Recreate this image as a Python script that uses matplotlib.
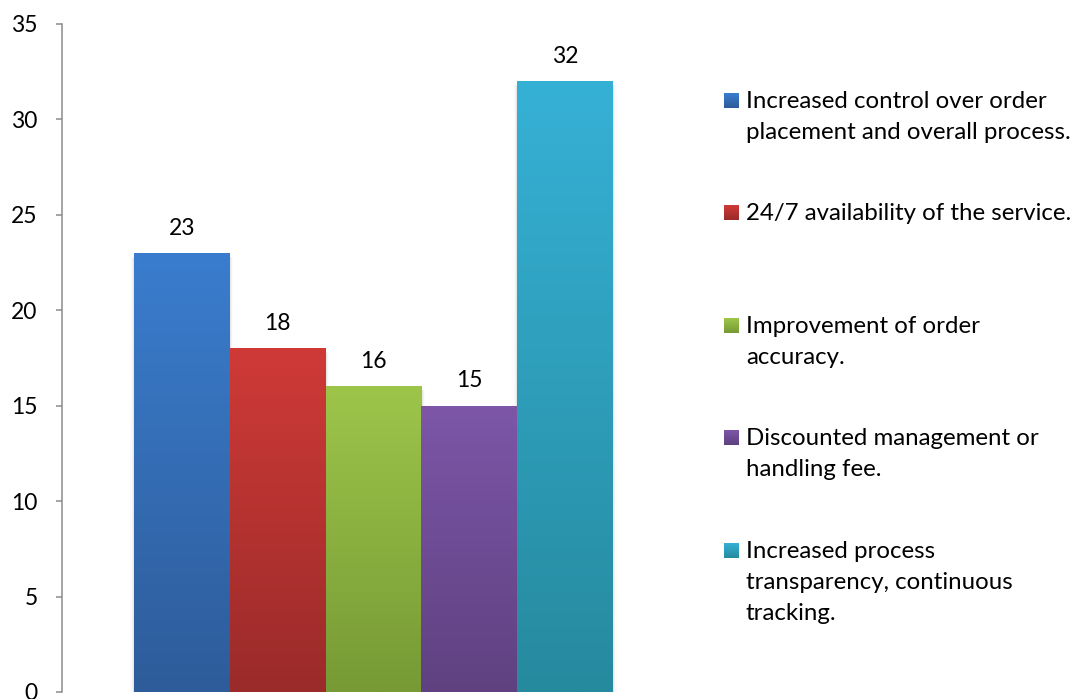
import numpy as np
import matplotlib
matplotlib.use("Agg")
import matplotlib.pyplot as plt
from matplotlib.colors import to_rgb
from matplotlib.patches import Rectangle

plt.rcParams['font.family'] = ['Lato', 'DejaVu Sans']

# Survey responses per benefit
categories = [
    "Increased control over order\nplacement and overall process.",
    "24/7 availability of the service.",
    "Improvement of order\naccuracy.",
    "Discounted management or\nhandling fee.",
    "Increased process\ntransparency, continuous\ntracking.",
]
values = [23, 18, 16, 15, 32]
y_ticks = [0, 5, 10, 15, 20, 25, 30, 35]

# top (light) and bottom (dark) colours of each bar's vertical gradient
top_colors = ["#3A7DCE", "#CF3A37", "#9DC54A", "#7D56A8", "#36B1D6"]
bottom_colors = ["#2E5C9A", "#9A2B2A", "#779A35", "#5F4180", "#268A9E"]

FS_NUM = 16.5
FS_TXT = 17.3

W, H = 1083, 699
fig = plt.figure(figsize=(W / 100, H / 100), dpi=100)
ax = fig.add_axes([62 / W, 1 - 692 / H, (685 - 62) / W, (692 - 23.5) / H])

x = np.arange(len(values))
bars = ax.bar(x, values, width=1.0, color=top_colors, linewidth=0, zorder=2)

# vertical gradient fill clipped to each bar
for b, c_top, c_bot in zip(bars, top_colors, bottom_colors):
    t = np.array(to_rgb(c_top))
    bt = np.array(to_rgb(c_bot))
    f = np.linspace(0, 1, 256)[:, None]
    grad = (bt * (1 - f) + t * f)[:, None, :]  # row 0 = bottom
    x0, y0 = b.get_x(), b.get_y()
    w, h = b.get_width(), b.get_height()
    im = ax.imshow(grad, extent=[x0, x0 + w, y0, y0 + h], origin='lower',
                   aspect='auto', zorder=3, interpolation='bilinear')
    im.set_clip_path(b)
    # soft shadow around the bar
    for k, a in enumerate([0.05, 0.03, 0.015]):
        off = 0.012 * (k + 1)
        sh = Rectangle((x0 - off, y0), w + 2 * off, h - 0.3 + 0.05 * (k + 1),
                       facecolor='black', alpha=a, linewidth=0, zorder=1)
        ax.add_patch(sh)

# value labels above bars
for xi, v in zip(x, values):
    ax.annotate(f"{v}", (xi, v), xytext=(0, 13), textcoords='offset points',
                ha='center', va='baseline', fontsize=FS_NUM, color='black', zorder=5)

ax.set_xlim(-1.25, len(values) + 0.25)
ax.set_ylim(0, 35)
ax.set_yticks(y_ticks)
ax.set_yticklabels([str(t) for t in y_ticks], fontsize=FS_NUM)
ax.set_xticks([])
for s in ['top', 'right', 'bottom']:
    ax.spines[s].set_visible(False)
ax.spines['left'].set_color('#8C8C8C')
ax.spines['left'].set_linewidth(1.1)
ax.tick_params(axis='y', direction='out', length=4.5, width=1.1, color='#8C8C8C',
               pad=13, labelcolor='black')

# legend drawn to the right of the plot
first_baselines = [107.7, 220.2, 332.7, 445.2, 557.7]
line_step = 31.2
sq = 15
for lab, c_top, c_bot, yb in zip(categories, top_colors, bottom_colors, first_baselines):
    t = np.array(to_rgb(c_top)); bt = np.array(to_rgb(c_bot))
    f = np.linspace(0, 1, 32)[:, None]
    grad = (t * (1 - f) + bt * f)[:, None, :]
    lax = fig.add_axes([724 / W, 1 - yb / H, sq / W, sq / H])
    lax.imshow(grad, aspect='auto', extent=[0, 1, 0, 1])
    lax.axis('off')
    for i, line in enumerate(lab.split("\n")):
        fig.text(746 / W, 1 - (yb + i * line_step) / H, line, fontsize=FS_TXT,
                 va='baseline', ha='left', color='black')

fig.savefig("out.png", dpi=100)
